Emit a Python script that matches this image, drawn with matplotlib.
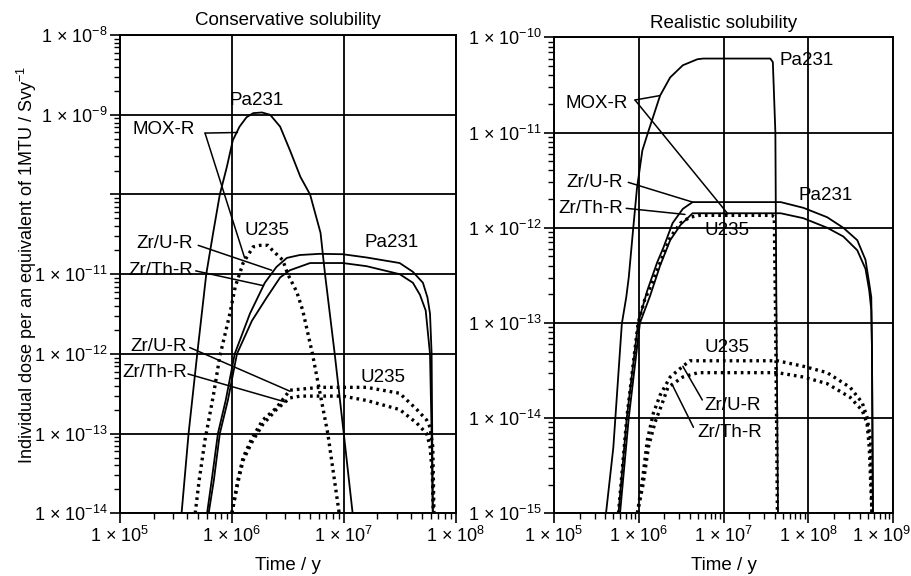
import matplotlib
matplotlib.use('Agg')
import matplotlib.pyplot as plt
from matplotlib.ticker import FixedLocator, LogLocator, NullFormatter
from matplotlib.transforms import ScaledTranslation

plt.rcParams['font.family'] = ['Liberation Sans', 'DejaVu Sans']
plt.rcParams['mathtext.fontset'] = 'custom'
plt.rcParams['mathtext.rm'] = 'Liberation Sans'
plt.rcParams['mathtext.it'] = 'Liberation Sans:italic'
plt.rcParams['mathtext.bf'] = 'Liberation Sans:bold'

# ---- conservative solubility (left) ----
cons_mox_pa_t = [3.55e5, 4.1e5, 4.9e5, 5.9e5, 6.8e5, 7.8e5, 9.0e5, 1.02e6, 1.17e6, 1.35e6, 1.55e6,
                 1.86e6, 2.2e6, 2.7e6, 3.3e6, 4.1e6, 5.0e6, 6.2e6, 6.8e6, 8.3e6, 1.0e7, 1.2e7]
cons_mox_pa_d = [1e-14, 1e-13, 1e-12, 1e-11, 3.3e-11, 1e-10, 2.2e-10, 4.8e-10, 7.1e-10, 9.3e-10, 1.05e-9,
                 1.07e-9, 1.0e-9, 7.1e-10, 3.6e-10, 1.66e-10, 1e-10, 3.3e-11, 1e-11, 1e-12, 1e-13, 1e-14]

cons_mox_u_t = [4.7e5, 5.1e5, 5.75e5, 6.8e5, 7.8e5, 9.6e5, 1.07e6, 1.26e6, 1.55e6, 1.78e6, 2.1e6,
                2.3e6, 2.85e6, 3.16e6, 3.8e6, 4.3e6, 5.25e6, 7.2e6, 9.1e6]
cons_mox_u_d = [1e-14, 2.6e-14, 8.3e-14, 2.9e-13, 9.3e-13, 3.2e-12, 6.9e-12, 1.38e-11, 2.2e-11, 2.3e-11, 2.3e-11,
                2.0e-11, 1.5e-11, 1.0e-11, 6e-12, 3.5e-12, 1e-12, 1e-13, 1e-14]

cons_zru_pa_t = [6.0e5, 6.6e5, 7.5e5, 8.8e5, 1.06e6, 1.45e6, 1.97e6, 2.5e6, 3.1e6, 4.05e6, 6.1e6,
                 9.8e6, 1.6e7, 3.16e7, 4.15e7, 5.1e7, 5.6e7, 5.9e7, 6.1e7, 6.25e7]
cons_zru_pa_d = [1e-14, 2.6e-14, 1e-13, 2.6e-13, 1e-12, 3.2e-12, 7.8e-12, 1.23e-11, 1.6e-11, 1.74e-11, 1.8e-11,
                 1.78e-11, 1.62e-11, 1.38e-11, 1.07e-11, 7.8e-12, 5.1e-12, 3.2e-12, 1e-12, 1e-14]

cons_zrth_pa_t = [6.2e5, 6.9e5, 7.8e5, 9.2e5, 1.11e6, 1.51e6, 2.05e6, 2.7e6, 3.3e6, 5.0e6,
                  9.8e6, 1.6e7, 3.16e7, 4.15e7, 4.8e7, 5.4e7, 5.9e7, 6.1e7, 6.25e7]
cons_zrth_pa_d = [1e-14, 2.6e-14, 1e-13, 2.6e-13, 1e-12, 2.6e-12, 5.1e-12, 9.1e-12, 1.12e-11, 1.38e-11,
                  1.38e-11, 1.26e-11, 1.0e-11, 7.8e-12, 5.5e-12, 3.5e-12, 1e-12, 1e-13, 1e-14]

cons_zru_u_t = [1.0e6, 1.13e6, 1.26e6, 1.51e6, 1.89e6, 2.5e6, 3.3e6, 6.1e6, 1.6e7, 3.16e7, 4.5e7,
                5.5e7, 5.9e7, 6.25e7, 6.4e7]
cons_zru_u_d = [1e-14, 2.6e-14, 5e-14, 8.7e-14, 1.48e-13, 2.1e-13, 3.5e-13, 3.8e-13, 3.8e-13, 3.2e-13, 2.0e-13,
                1.48e-13, 1.2e-13, 6.8e-14, 1e-14]

cons_zrth_u_t = [1.0e6, 1.13e6, 1.26e6, 1.51e6, 1.89e6, 2.5e6, 3.3e6, 4.1e6, 9.8e6, 1.6e7, 3.16e7,
                 4.5e7, 5.5e7, 5.9e7, 6.2e7, 6.3e7]
cons_zrth_u_d = [1e-14, 2.4e-14, 4.6e-14, 7.8e-14, 1.3e-13, 2.0e-13, 2.8e-13, 2.95e-13, 2.95e-13, 2.6e-13, 2.0e-13,
                 1.35e-13, 1.0e-13, 7e-14, 3e-14, 1e-14]

# ---- realistic solubility (right) ----
real_mox_pa_t = [4.1e5, 5.0e5, 6.3e5, 7.1e5, 7.6e5, 8.5e5, 9.5e5, 1.1e6, 1.29e6, 1.78e6, 2.34e6,
                 3.3e6, 4.9e6, 5.75e6, 3.55e7, 3.8e7, 4.07e7, 4.17e7, 4.37e7]
real_mox_pa_d = [1e-15, 4.9e-15, 9.8e-14, 1.86e-13, 3.0e-13, 9.0e-13, 2.6e-12, 6.5e-12, 1.02e-11, 2.45e-11, 3.8e-11,
                 5.1e-11, 5.9e-11, 6.0e-11, 6.0e-11, 5.5e-11, 1e-11, 2.2e-13, 1e-15]

real_mox_u_t = [5.75e5, 7.2e5, 9.8e5, 1.17e6, 1.48e6, 1.78e6, 2.34e6, 3.1e6, 4.0e6, 5.2e6,
                3.7e7, 3.95e7, 4.1e7, 4.3e7]
real_mox_u_d = [1e-15, 1e-14, 1e-13, 1.74e-13, 2.8e-13, 4.3e-13, 7.9e-13, 1.12e-12, 1.29e-12, 1.35e-12,
                1.35e-12, 1.3e-12, 1e-13, 1e-15]

real_zru_pa_t = [5.75e5, 7.2e5, 9.8e5, 1.26e6, 1.64e6, 1.95e6, 2.5e6, 3.3e6, 4.3e6, 4.7e7, 8.7e7,
                 1.66e8, 2.57e8, 3.76e8, 4.7e8, 5.2e8, 5.5e8, 5.6e8, 5.75e8]
real_zru_pa_d = [1e-15, 1e-14, 1e-13, 2.2e-13, 4.3e-13, 6.2e-13, 1.12e-12, 1.58e-12, 1.86e-12, 1.86e-12, 1.62e-12,
                 1.29e-12, 1e-12, 7.4e-13, 4.6e-13, 2.6e-13, 1.86e-13, 5.5e-14, 1e-15]

real_zrth_pa_t = [6.0e5, 7.6e5, 1.03e6, 1.35e6, 1.78e6, 2.34e6, 3.1e6, 4.3e6, 4.7e7, 8.7e7,
                  1.66e8, 2.57e8, 3.76e8, 4.7e8, 5.2e8, 5.5e8, 5.6e8, 5.75e8]
real_zrth_pa_d = [1e-15, 1e-14, 1e-13, 1.9e-13, 4e-13, 7.4e-13, 1.07e-12, 1.42e-12, 1.42e-12, 1.26e-12,
                  1.0e-12, 8.1e-13, 5.8e-13, 3.7e-13, 2.2e-13, 1.37e-13, 5.5e-14, 1e-15]

real_zru_u_t = [9.6e5, 1.1e6, 1.26e6, 1.48e6, 1.78e6, 2.34e6, 3.3e6, 4.0e6, 4.3e7, 8.7e7,
                1.66e8, 3.1e8, 4.3e8, 4.9e8, 5.4e8, 5.6e8]
real_zru_u_d = [1e-15, 2.2e-15, 5.9e-15, 1.12e-14, 1.74e-14, 2.7e-14, 3.5e-14, 4e-14, 4e-14, 3.5e-14,
                3.0e-14, 2.1e-14, 1.45e-14, 1.02e-14, 5.9e-15, 1e-15]

real_zrth_u_t = [9.6e5, 1.12e6, 1.3e6, 1.55e6, 1.87e6, 2.2e6, 3.3e6, 5.0e6, 4.3e7, 8.7e7,
                 1.66e8, 3.1e8, 4.3e8, 4.9e8, 5.2e8, 5.6e8]
real_zrth_u_d = [1e-15, 2.0e-15, 5e-15, 9e-15, 1.4e-14, 2.1e-14, 2.7e-14, 3.0e-14, 3.0e-14, 2.7e-14,
                 2.3e-14, 1.65e-14, 1.2e-14, 8.8e-15, 5e-15, 1e-15]

cons_xticks = [1e5, 1e6, 1e7, 1e8]
cons_xlabels = [r'1 $\times$ 10$^{5}$', r'1 $\times$ 10$^{6}$', r'1 $\times$ 10$^{7}$', r'1 $\times$ 10$^{8}$']
cons_yticks = [1e-14, 1e-13, 1e-12, 1e-11, 1e-10, 1e-9, 1e-8]
cons_ylabels = [r'1 $\times$ 10$^{-14}$', r'1 $\times$ 10$^{-13}$', r'1 $\times$ 10$^{-12}$',
                r'1 $\times$ 10$^{-11}$', '', r'1 $\times$ 10$^{-9}$', r'1 $\times$ 10$^{-8}$']
real_xticks = [1e5, 1e6, 1e7, 1e8, 1e9]
real_xlabels = [r'1 $\times$ 10$^{5}$', r'1 $\times$ 10$^{6}$', r'1 $\times$ 10$^{7}$',
                r'1 $\times$ 10$^{8}$', r'1 $\times$ 10$^{9}$']
real_yticks = [1e-15, 1e-14, 1e-13, 1e-12, 1e-11, 1e-10]
real_ylabels = [r'1 $\times$ 10$^{-15}$', r'1 $\times$ 10$^{-14}$', r'1 $\times$ 10$^{-13}$',
                r'1 $\times$ 10$^{-12}$', r'1 $\times$ 10$^{-11}$', r'1 $\times$ 10$^{-10}$']

SOLID = dict(color='black', lw=1.3, ls='-')
DOTS = dict(color='black', lw=2.4, ls=(0, (0.8, 1.2)), dash_capstyle='butt')
FS = 13.5


def setup(ax, xticks, xlabels, yticks, ylabels, xlim, ylim, title):
    ax.set_xscale('log')
    ax.set_yscale('log')
    ax.set_xlim(*xlim)
    ax.set_ylim(*ylim)
    ax.xaxis.set_major_locator(FixedLocator(xticks))
    ax.yaxis.set_major_locator(FixedLocator(yticks))
    ax.xaxis.set_minor_locator(LogLocator(base=10, subs=range(2, 10), numticks=50))
    ax.yaxis.set_minor_locator(LogLocator(base=10, subs=range(2, 10), numticks=50))
    ax.xaxis.set_minor_formatter(NullFormatter())
    ax.yaxis.set_minor_formatter(NullFormatter())
    ax.set_xticklabels(xlabels, fontsize=13)
    ax.set_yticklabels(ylabels, fontsize=13)
    ax.tick_params(which='major', direction='out', length=7, width=1.2, pad=2)
    ax.tick_params(which='minor', direction='out', length=4, width=1.0)
    ax.grid(True, which='major', color='black', lw=1.3)
    for s in ax.spines.values():
        s.set_linewidth(1.4)
    ax.set_title(title, fontsize=13.5, pad=7)
    ax.set_xlabel('Time / y', fontsize=13.5, labelpad=8)


def leader(ax, start, end):
    ax.annotate('', xy=end, xytext=start,
                arrowprops=dict(arrowstyle='-', color='black', lw=1.1, shrinkA=0, shrinkB=0))


fig = plt.figure(figsize=(9.12, 5.76), dpi=100)
ax1 = fig.add_axes([0.1316, 0.109, 0.368, 0.830])
ax2 = fig.add_axes([0.6075, 0.109, 0.372, 0.826])

# left panel
ax1.plot(cons_mox_pa_t, cons_mox_pa_d, **SOLID)
ax1.plot(cons_mox_u_t, cons_mox_u_d, **DOTS)
ax1.plot(cons_zru_pa_t, cons_zru_pa_d, **SOLID)
ax1.plot(cons_zrth_pa_t, cons_zrth_pa_d, **SOLID)
ax1.plot(cons_zru_u_t, cons_zru_u_d, **DOTS)
ax1.plot(cons_zrth_u_t, cons_zrth_u_d, **DOTS)
setup(ax1, cons_xticks, cons_xlabels, cons_yticks, cons_ylabels, (1e5, 1e8), (1e-14, 1e-8),
      'Conservative solubility')
ax1.set_ylabel(r'Individual dose per an equivalent of 1MTU / Svy$^{-1}$', fontsize=13)
ax1.yaxis.set_label_coords(-0.24, 0.52)

ax1.text(1.67e6, 1.53e-9, 'Pa231', fontsize=FS, ha='center', va='center')
ax1.text(4.7e5, 6.5e-10, 'MOX-R', fontsize=FS, ha='right', va='center')
leader(ax1, (5.75e5, 5.9e-10), (1.12e6, 6.0e-10))
leader(ax1, (5.75e5, 5.9e-10), (1.3e6, 1.6e-11))
ax1.text(2.05e6, 3.5e-11, 'U235', fontsize=FS, ha='center', va='center')
ax1.text(2.7e7, 2.5e-11, 'Pa231', fontsize=FS, ha='center', va='center')
ax1.text(4.5e5, 2.45e-11, 'Zr/U-R', fontsize=FS, ha='right', va='center')
leader(ax1, (5.0e5, 2.3e-11), (2.27e6, 1.12e-11))
ax1.text(4.5e5, 1.12e-11, 'Zr/Th-R', fontsize=FS, ha='right', va='center')
leader(ax1, (4.75e5, 1.1e-11), (1.89e6, 7.2e-12))
ax1.text(3.98e5, 1.23e-12, 'Zr/U-R', fontsize=FS, ha='right', va='center')
leader(ax1, (4.2e5, 1.2e-12), (3.3e6, 3.4e-13))
ax1.text(3.98e5, 5.8e-13, 'Zr/Th-R', fontsize=FS, ha='right', va='center')
leader(ax1, (4.05e5, 5.6e-13), (2.97e6, 2.5e-13))
ax1.text(2.24e7, 5.1e-13, 'U235', fontsize=FS, ha='center', va='center')

# right panel
ax2.plot(real_mox_pa_t, real_mox_pa_d, **SOLID)
ax2.plot(real_mox_u_t, real_mox_u_d, **DOTS)
ax2.plot(real_zru_pa_t, real_zru_pa_d, **SOLID)
ax2.plot(real_zrth_pa_t, real_zrth_pa_d, **SOLID)
ax2.plot(real_zru_u_t, real_zru_u_d, **DOTS)
ax2.plot(real_zrth_u_t, real_zrth_u_d, **DOTS)
setup(ax2, real_xticks, real_xlabels, real_yticks, real_ylabels, (1e5, 1e9), (1e-15, 1e-10),
      'Realistic solubility')
# last x label sits against the figure edge: nudge it left
last = ax2.get_xticklabels()[-1]
last.set_transform(last.get_transform() + ScaledTranslation(-12 / 100, 0, fig.dpi_scale_trans))

ax2.text(9.4e7, 5.7e-11, 'Pa231', fontsize=FS, ha='center', va='center')
ax2.text(7.5e5, 2.0e-11, 'MOX-R', fontsize=FS, ha='right', va='center')
leader(ax2, (9.0e5, 2.2e-11), (1.78e6, 2.45e-11))
leader(ax2, (9.0e5, 2.2e-11), (1.12e7, 1.4e-12))
ax2.text(6.5e5, 3.0e-12, 'Zr/U-R', fontsize=FS, ha='right', va='center')
leader(ax2, (7.5e5, 3.0e-12), (4.3e6, 1.86e-12))
ax2.text(6.5e5, 1.6e-12, 'Zr/Th-R', fontsize=FS, ha='right', va='center')
leader(ax2, (7.1e5, 1.6e-12), (3.5e6, 1.38e-12))
ax2.text(1.58e8, 2.2e-12, 'Pa231', fontsize=FS, ha='center', va='center')
ax2.text(1.1e7, 9.3e-13, 'U235', fontsize=FS, ha='center', va='center')
ax2.text(1.1e7, 5.5e-14, 'U235', fontsize=FS, ha='center', va='center')
ax2.text(6.0e6, 1.35e-14, 'Zr/U-R', fontsize=FS, ha='left', va='center')
leader(ax2, (5.6e6, 1.55e-14), (3.3e6, 3.5e-14))
ax2.text(4.9e6, 7.1e-15, 'Zr/Th-R', fontsize=FS, ha='left', va='center')
leader(ax2, (4.4e6, 8e-15), (2.5e6, 2.2e-14))

fig.savefig('out.png', dpi=100)
